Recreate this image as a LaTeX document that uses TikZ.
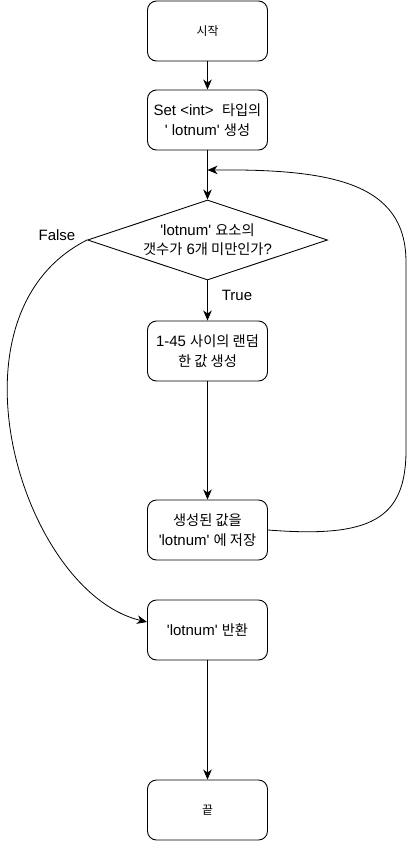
\documentclass[tikz,border=0pt]{standalone}
\usepackage{fontspec}
\newfontfamily\lat{Liberation Sans}
\newfontfamily\kr{Noto Sans CJK KR}[Scale=0.95]
\usetikzlibrary{arrows.meta,shapes.geometric}
\begin{document}
\begin{tikzpicture}[x=1pt,y=-1pt,
  box/.style={draw, rounded corners=9pt, minimum width=120pt, minimum height=60pt,
    align=center, inner sep=0pt, line width=0.9pt,
    font=\lat\fontsize{15}{20.5}\selectfont},
  smallbox/.style={box, font=\lat\fontsize{12.5}{14}\selectfont},
  dshape/.style={draw, diamond, minimum width=240pt, minimum height=80pt,
    inner sep=0pt, line width=0.9pt},
  dtext/.style={align=center, inner sep=0pt, font=\lat\fontsize{15}{18.5}\selectfont},
  lbl/.style={inner sep=0pt, font=\lat\fontsize{15}{18}\selectfont},
  arr/.style={-{Stealth[length=10pt,width=8.5pt,inset=3pt]}, line width=0.9pt},
  curve/.style={arr, line width=0.8pt}]
\useasboundingbox (0,0) rectangle (409,841);

\node[smallbox] (b1) at (207.5,31) {{\kr 시작}};
\node[box] (b2) at (207.5,120) {Set <int>~~{\kr 타입의}\\' lotnum' {\kr 생성}};
\node[dshape] (d) at (207.5,240) {};
\node[dtext] (dt) at (207.5,239.5) {'lotnum' {\kr 요소의}\\{\kr 갯수가} 6{\kr 개 미만인가}?};
\node[box] (b3) at (207.5,351) {1-45 {\kr 사이의 랜덤}\\{\kr 한 값 생성}};
\node[box] (b4) at (207.5,530) {{\kr 생성된 값을}\\'lotnum' {\kr 에 저장}};
\node[box] (b5) at (207.5,630) {'lotnum' {\kr 반환}};
\node[smallbox] (b6) at (207.5,810) {{\kr 끝}};

\coordinate (j) at (207.5,170);
\coordinate (f) at (147,622);

\node[lbl] (lf) at (57,235) {False};
\node[lbl] (lt) at (237,295) {True};

\draw[arr] (b1) -- (b2);
\draw[arr] (b2) -- (d);
\draw[arr] (d) -- (b3);
\draw[arr] (b3) -- (b4);
\draw[arr] (b5) -- (b6);
\draw[curve] (b4.east) .. controls (370,538) and (406,520) .. (406,450)
  -- (406,262) .. controls (406,182) and (330,169) .. (j);
\draw[curve] (d.west) .. controls (-62,315) and (22,592) .. (f);
\end{tikzpicture}
\end{document}
